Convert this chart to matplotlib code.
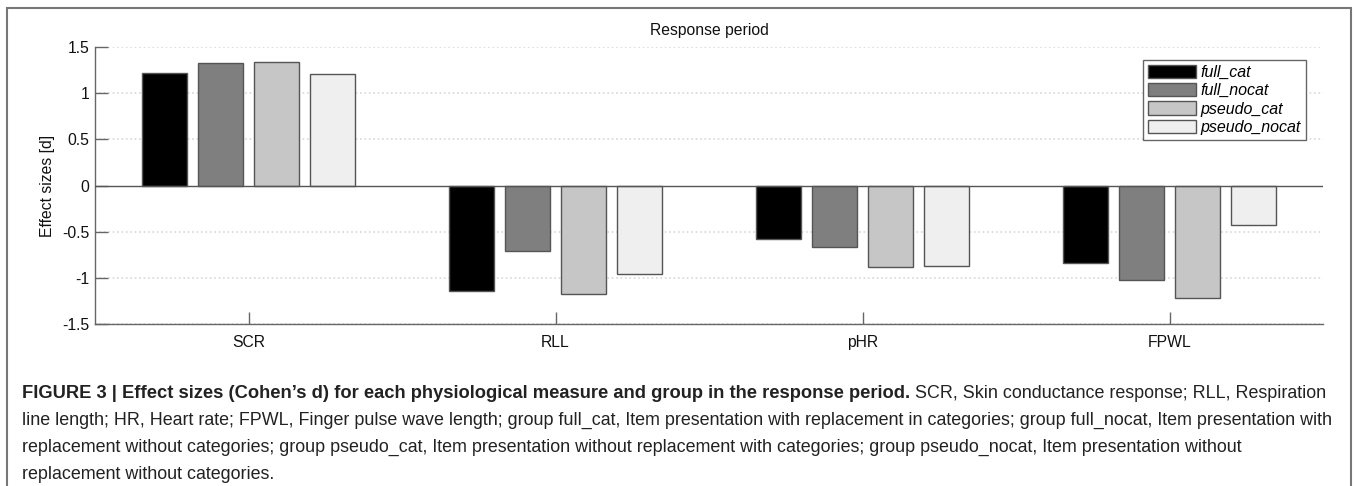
import numpy as np
import matplotlib
matplotlib.use('Agg')
from matplotlib import pyplot as plt
from matplotlib.patches import Rectangle

plt.rcParams['font.family'] = ['Liberation Sans', 'DejaVu Sans']

measures = ['SCR', 'RLL', 'pHR', 'FPWL']
groups = ['full_cat', 'full_nocat', 'pseudo_cat', 'pseudo_nocat']
effect = {
    'full_cat':     [1.215, -1.145, -0.575, -0.836],
    'full_nocat':   [1.325, -0.710, -0.666, -1.020],
    'pseudo_cat':   [1.335, -1.175, -0.882, -1.213],
    'pseudo_nocat': [1.203, -0.955, -0.872, -0.432],
}
bar_colors = ['#000000', '#7f7f7f', '#c6c6c6', '#efefef']
yticks = [-1.5, -1, -0.5, 0, 0.5, 1, 1.5]
ytick_labels = ['-1.5', '-1', '-0.5', '0', '0.5', '1', '1.5']

caption_bold = 'FIGURE 3 | Effect sizes (Cohen\u2019s d) for each physiological measure and group in the response period.'
caption_lines = [
    ' SCR, Skin conductance response; RLL, Respiration',
    'line length; HR, Heart rate; FPWL, Finger pulse wave length; group full_cat, Item presentation with replacement in categories; group full_nocat, Item presentation with',
    'replacement without categories; group pseudo_cat, Item presentation without replacement with categories; group pseudo_nocat, Item presentation without',
    'replacement without categories.',
]

W, H = 1358, 486
fig = plt.figure(figsize=(W/100, H/100), dpi=100)
ax = fig.add_axes([95/W, 1-324/H, (1323-95)/W, (324-47)/H])

# MATLAB style grouped bars
x = np.arange(1, len(measures)+1)
gw = min(0.8, len(groups)/(len(groups)+1.5))
bw = gw/len(groups)*0.8
for i, g in enumerate(groups):
    off = -gw/2 + (2*i+1)*gw/(2*len(groups))
    ax.bar(x+off, effect[g], width=bw, color=bar_colors[i], edgecolor='#555555',
           linewidth=1.0, label=g, zorder=3)

ax.set_xlim(0.5, 4.5)
ax.set_ylim(-1.5, 1.5)
ax.set_yticks(yticks)
ax.set_yticklabels(ytick_labels)
ax.set_xticks(x)
ax.set_xticklabels(measures)
ax.tick_params(direction='in', length=9, width=1, color='#666666', labelsize=11.3, labelcolor='#111111')
ax.tick_params(axis='y', pad=4)
ax.tick_params(axis='x', pad=8)
for y in yticks:
    if y != 0:
        ax.axhline(y, color='#d8d8d8', linestyle=':', linewidth=1.2, zorder=1)
ax.axhline(0, color='#555555', linewidth=1.0, zorder=4)
for s in ['top', 'right']:
    ax.spines[s].set_visible(False)
for s in ['left', 'bottom']:
    ax.spines[s].set_color('#666666')
    ax.spines[s].set_linewidth(1.0)
ax.set_ylabel('Effect sizes [d]', fontsize=11.3, color='#111111', labelpad=5)
ax.set_title('Response period', fontsize=11.3, color='#111111', pad=9)

leg = ax.legend(loc='upper left', bbox_to_anchor=(1143/W, 1-60/H), bbox_transform=fig.transFigure,
                borderaxespad=0, fancybox=False, framealpha=1, edgecolor='#666666',
                handlelength=3.0, handleheight=0.9, handletextpad=0.3, labelspacing=0.2,
                borderpad=0.3, prop={'style': 'italic', 'size': 11.5})
leg.get_frame().set_linewidth(1.0)

# outer frame
fig.patches.append(Rectangle((7/W, -0.1), (1351-7)/W, 1.1-8.5/H, transform=fig.transFigure,
                             fill=False, edgecolor='#777777', linewidth=1.5))

# caption
cap_x = 22/W
line_y = [393, 420, 447, 474]
cap_size = 12.9
t0 = fig.text(cap_x, 1-line_y[0]/H, caption_bold, fontsize=13.25, fontweight='bold',
              color='#222222', va='center', ha='left')
fig.canvas.draw()
bb = t0.get_window_extent(fig.canvas.get_renderer())
fig.text(bb.x1/W, 1-line_y[0]/H, caption_lines[0], fontsize=cap_size, color='#222222',
         va='center', ha='left')
for ly, txt in zip(line_y[1:], caption_lines[1:]):
    fig.text(cap_x, 1-ly/H, txt, fontsize=cap_size, color='#222222', va='center', ha='left')

fig.savefig('out.png', dpi=100)
